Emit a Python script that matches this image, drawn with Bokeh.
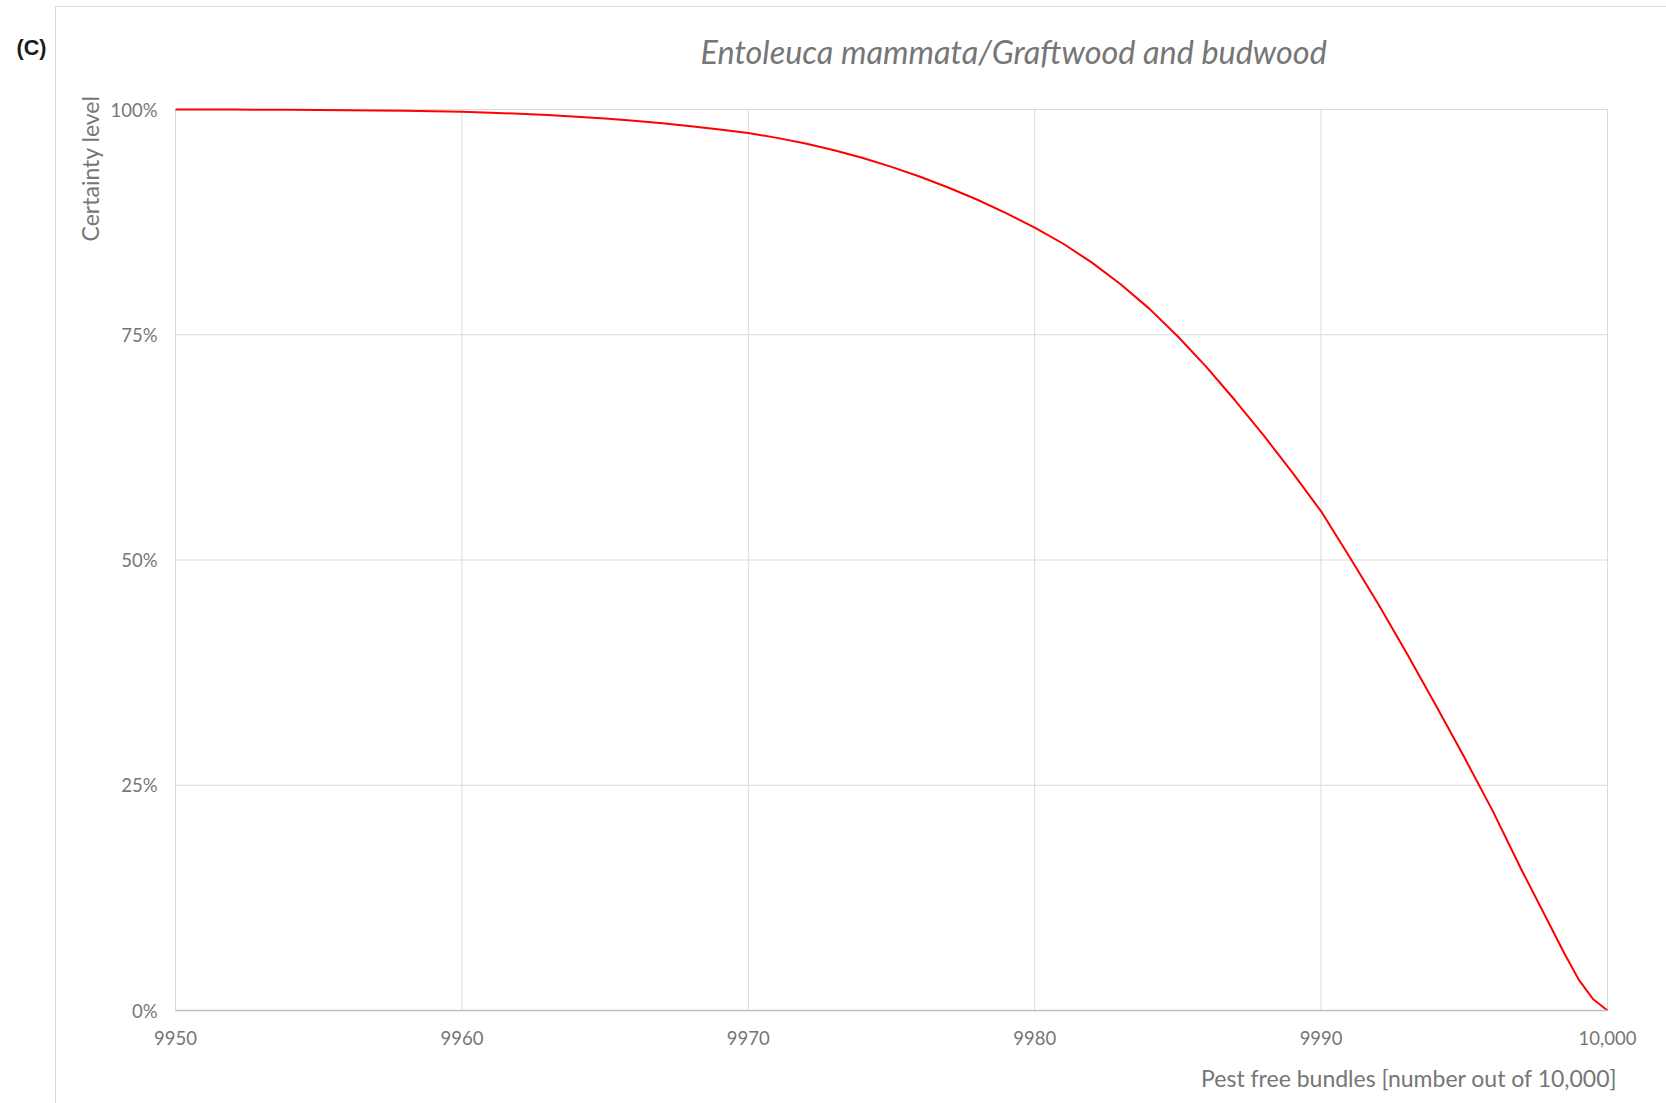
import math
from bokeh.plotting import figure
from bokeh.models import FixedTicker, Range1d, Label, InlineStyleSheet
from bokeh.embed import file_html
from bokeh.resources import INLINE

# ---- data ----
pest_free_bundles = [9950, 9951, 9952, 9953, 9954, 9955, 9956, 9957, 9958, 9959,
                     9960, 9961, 9962, 9963, 9964, 9965, 9966, 9967, 9968, 9969,
                     9970, 9971, 9972, 9973, 9974, 9975, 9976, 9977, 9978, 9979,
                     9980, 9981, 9982, 9983, 9984, 9985, 9986, 9987, 9988, 9989,
                     9990, 9991, 9992, 9993, 9994, 9995, 9996, 9997, 9998, 9998.5,
                     9999, 9999.5, 10000]
certainty_level = [1.0000, 1.0000, 0.9999, 0.9998, 0.9997, 0.9995, 0.9993, 0.9990, 0.9986, 0.9981,
                   0.9975, 0.9965, 0.9953, 0.9938, 0.9920, 0.9899, 0.9875, 0.9847, 0.9815, 0.9779,
                   0.9740, 0.9685, 0.9622, 0.9547, 0.9461, 0.9363, 0.9253, 0.9132, 0.8998, 0.8850,
                   0.8690, 0.8510, 0.8300, 0.8060, 0.7790, 0.7480, 0.7140, 0.6770, 0.6380, 0.5970,
                   0.5540, 0.5030, 0.4510, 0.3960, 0.3390, 0.2810, 0.2210, 0.1560, 0.0940, 0.0630,
                   0.0340, 0.0125, 0.0000]
x_ticks = [9950, 9960, 9970, 9980, 9990, 10000]
x_tick_labels = ["9950", "9960", "9970", "9980", "9990", "10,000"]
y_ticks = [0.0, 0.25, 0.5, 0.75, 1.0]
y_tick_labels = ["0%", "25%", "50%", "75%", "100%"]

title_text = "Entoleuca mammata/Graftwood and budwood"
x_label = "Pest free bundles [number out of 10,000]"
y_label = "Certainty level"
panel_tag = "(C)"

TEXT = "#767676"
GRID = "#d9d9d9"
FONT = "Lato"

# ---- layout: the frame fills the canvas; the axes are pinned inside it ----
W, H = 1660, 1100
FL, FT, FR, FB = 175, 109, 1607, 1010          # plot area edges in canvas pixels
X0, X1 = x_ticks[0], x_ticks[-1]
Y0, Y1 = y_ticks[0], y_ticks[-1]
kx = (FR - FL) / (X1 - X0)
ky = (FB - FT) / (Y1 - Y0)
x_range = Range1d(X0 - FL / kx, X1 + (W - FR) / kx)
y_range = Range1d(Y0 - (H - FB) / ky, Y1 + FT / ky)

p = figure(width=W, height=H, output_backend="svg", toolbar_location=None,
           x_range=x_range, y_range=y_range, title=None,
           min_border=0, min_border_left=0, min_border_right=0,
           min_border_top=0, min_border_bottom=0)
p.outline_line_color = None
p.background_fill_color = "white"
p.border_fill_color = "white"
p.grid.visible = False

# grid lines at the tick positions
p.segment(x0=x_ticks, y0=[Y0] * len(x_ticks), x1=x_ticks, y1=[Y1] * len(x_ticks),
          line_color=GRID, line_width=1)
p.segment(x0=[X0] * len(y_ticks), y0=y_ticks, x1=[X1] * len(y_ticks), y1=y_ticks,
          line_color=GRID, line_width=1)

p.line(pest_free_bundles, certainty_level, line_color="#ff0000", line_width=2)

# axes
p.xaxis.fixed_location = Y0
p.yaxis.fixed_location = X0
p.xaxis.bounds = (X0, X1)
p.yaxis.bounds = (Y0, Y1)
p.xaxis.ticker = FixedTicker(ticks=x_ticks)
p.yaxis.ticker = FixedTicker(ticks=y_ticks)
p.xaxis.major_label_overrides = {t: l for t, l in zip(x_ticks, x_tick_labels)}
p.yaxis.major_label_overrides = {t: l for t, l in zip(y_ticks, y_tick_labels)}
for ax in (p.xaxis, p.yaxis):
    ax.major_tick_line_color = None
    ax.minor_tick_line_color = None
    ax.major_label_text_font = FONT
    ax.major_label_text_font_size = "18.5px"
    ax.major_label_text_color = TEXT
p.xaxis.axis_line_color = "#bfbfbf"
p.xaxis.axis_line_width = 1.5
p.yaxis.axis_line_color = None
p.xaxis.major_label_standoff = 14
p.yaxis.major_label_standoff = 12

# texts (screen units: x from the left edge, y up from the bottom edge)
p.add_layout(Label(x=700, y=H - 51, x_units="screen", y_units="screen",
                   text=title_text, text_font=FONT, text_font_style="italic",
                   text_font_size="32.4px", text_color=TEXT,
                   text_align="left", text_baseline="alphabetic"))
p.add_layout(Label(x=1617, y=H - 1077.5, x_units="screen", y_units="screen",
                   text=x_label, text_font=FONT, text_font_size="23px", text_color=TEXT,
                   text_align="right", text_baseline="alphabetic"))
p.add_layout(Label(x=89.5, y=H - 95, x_units="screen", y_units="screen",
                   text=y_label, text_font=FONT, text_font_size="23px", text_color=TEXT,
                   angle=math.pi / 2, text_align="right", text_baseline="alphabetic"))
p.add_layout(Label(x=16, y=H - 47, x_units="screen", y_units="screen",
                   text=panel_tag, text_font="Liberation Sans", text_font_style="bold",
                   text_font_size="21.5px", text_color="#1a1a1a",
                   text_align="left", text_baseline="alphabetic"))

# outer chart border (cropped chart area)
p.stylesheets = [InlineStyleSheet(css=(
    ":host::after { content: ''; position: absolute; left: 55px; top: 6px; "
    "width: 1620px; height: 1200px; border-left: 1.5px solid #d9d9d9; "
    "border-top: 1.5px solid #d9d9d9; pointer-events: none; }"))]

open("out.html", "w").write(file_html(p, INLINE))
